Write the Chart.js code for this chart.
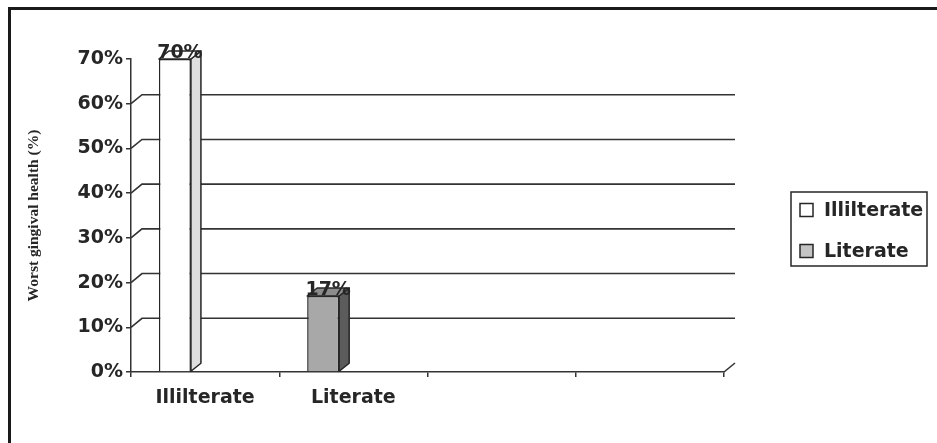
<!DOCTYPE html>
<html>
<head>
<meta charset="utf-8">
<script src="https://cdn.jsdelivr.net/npm/chart.js@4"></script>
<style>
html, body { margin: 0; padding: 0; background: #fff; }
#wrap { position: relative; width: 937px; height: 443px; overflow: hidden; }
#frame { position: absolute; left: 8px; top: 7px; right: -5px; bottom: -5px; border-top: 3px solid #1a1a1a; border-left: 3px solid #1a1a1a; }
canvas { position: absolute; left: 0; top: 0; }
</style>
</head>
<body>
<div id="wrap">
  <div id="frame"></div>
  <canvas id="chart" width="937" height="443"></canvas>
</div>
<script>
const categories = ["Illilterate", "Literate", "", ""];
const seriesNames = ["Illilterate", "Literate"];
const illiterateValues = [70, 17, null, null];
const literateValues = [null, null, null, null];
const gridValues = [10, 20, 30, 40, 50, 60];

const frontColors = ["#ffffff", "#a8a8a8"];
const sideColors = ["#dedede", "#5c5c5c"];
const topColors = ["#ffffff", "#8c8c8c"];
const legendColors = ["#ffffff", "#c4c4c4"];

const ink = "#262626";
const boldFont = { family: "DejaVu Sans", weight: "bold", size: 19 };

// depth of the back wall and of the bars (3D look)
const wallDepth = { dx: 11, dy: -9 };
const barDepth = { dx: 10, dy: -8 };

const backWall = {
  id: "backWall",
  beforeDatasetsDraw(chart) {
    const { ctx, scales: { x, y } } = chart;
    ctx.save();
    ctx.strokeStyle = "#333";
    ctx.lineWidth = 1.6;
    gridValues.forEach(v => {
      const py = y.getPixelForValue(v);
      ctx.beginPath();
      ctx.moveTo(x.left, py);
      ctx.lineTo(x.left + wallDepth.dx, py + wallDepth.dy);
      ctx.lineTo(x.right + wallDepth.dx, py + wallDepth.dy);
      ctx.stroke();
    });
    const y0 = y.getPixelForValue(0);
    ctx.beginPath();
    ctx.moveTo(x.right, y0);
    ctx.lineTo(x.right + wallDepth.dx, y0 + wallDepth.dy);
    ctx.stroke();
    ctx.restore();
  }
};

const bars3d = {
  id: "bars3d",
  afterDatasetsDraw(chart) {
    const ctx = chart.ctx;
    const meta = chart.getDatasetMeta(0);
    ctx.save();
    ctx.strokeStyle = ink;
    ctx.lineWidth = 1.5;
    ctx.lineJoin = "round";
    meta.data.forEach((bar, i) => {
      const v = illiterateValues[i];
      if (v === null) return;
      const { x, y, base, width } = bar.getProps(["x", "y", "base", "width"], true);
      const l = x - width / 2, r = x + width / 2;
      const dx = barDepth.dx, dy = barDepth.dy;
      // side face
      ctx.beginPath();
      ctx.moveTo(r, y);
      ctx.lineTo(r + dx, y + dy);
      ctx.lineTo(r + dx, base + dy);
      ctx.lineTo(r, base);
      ctx.closePath();
      ctx.fillStyle = sideColors[i];
      ctx.fill();
      ctx.stroke();
      // top face
      ctx.beginPath();
      ctx.moveTo(l, y);
      ctx.lineTo(l + dx, y + dy);
      ctx.lineTo(r + dx, y + dy);
      ctx.lineTo(r, y);
      ctx.closePath();
      ctx.fillStyle = topColors[i];
      ctx.fill();
      ctx.stroke();
      // value label
      ctx.fillStyle = ink;
      ctx.font = "bold 19px 'DejaVu Sans'";
      ctx.textAlign = "center";
      ctx.textBaseline = "alphabetic";
      ctx.fillText(v + "%", x + dx / 2, y - 1);
    });
    ctx.restore();
  }
};

const legendBox = {
  id: "legendBox",
  afterDraw(chart) {
    const ctx = chart.ctx;
    const left = chart.chartArea.right + 67, top = 192, w = 136, h = 74;
    ctx.save();
    ctx.strokeStyle = ink;
    ctx.lineWidth = 1.5;
    ctx.strokeRect(left, top, w, h);
    ctx.font = "bold 19px 'DejaVu Sans'";
    ctx.textAlign = "left";
    ctx.textBaseline = "middle";
    seriesNames.forEach((name, i) => {
      const cy = top + 18 + i * 41;
      ctx.fillStyle = legendColors[i];
      ctx.fillRect(left + 9, cy - 6.5, 13, 13);
      ctx.strokeRect(left + 9, cy - 6.5, 13, 13);
      ctx.fillStyle = ink;
      ctx.fillText(name, left + 33, cy + 1);
    });
    ctx.restore();
  }
};

new Chart(document.getElementById("chart"), {
  type: "bar",
  data: {
    labels: categories,
    datasets: [
      {
        label: seriesNames[0],
        data: illiterateValues,
        backgroundColor: frontColors,
        borderColor: ink,
        borderWidth: 1.5
      },
      {
        label: seriesNames[1],
        data: literateValues,
        backgroundColor: legendColors[1],
        borderColor: ink,
        borderWidth: 1.5
      }
    ]
  },
  options: {
    responsive: false,
    animation: false,
    layout: { padding: { top: 59, right: 213, bottom: 0, left: 0 } },
    datasets: { bar: { categoryPercentage: 0.815, barPercentage: 0.53 } },
    plugins: {
      legend: { display: false },
      tooltip: { enabled: false }
    },
    scales: {
      x: {
        grid: { offset: true, drawOnChartArea: false, tickLength: 5, color: "#333", lineWidth: 1.5 },
        border: { color: "#333", width: 1.5 },
        ticks: { font: boldFont, color: ink, padding: 10, maxRotation: 0, autoSkip: false },
        afterFit(s) { s.height = 71; }
      },
      y: {
        min: 0,
        max: 70,
        ticks: { stepSize: 10, font: boldFont, color: ink, padding: 3, callback: v => v + "%" },
        grid: { drawOnChartArea: false, tickLength: 5, color: "#333", lineWidth: 1.5 },
        border: { color: "#333", width: 1.5 },
        title: {
          display: true,
          text: "Worst gingival health (%)",
          font: { family: "Liberation Serif", weight: "bold", size: 15.5 },
          color: ink,
          padding: { top: 25, bottom: 0 }
        },
        afterFit(s) { s.width = 131; }
      }
    }
  },
  plugins: [backWall, bars3d, legendBox]
});
</script>
</body>
</html>
